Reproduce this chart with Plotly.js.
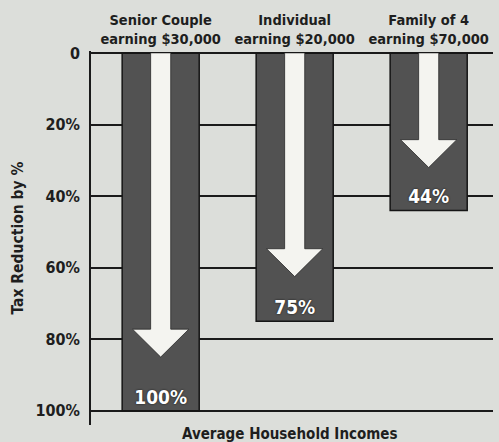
<!DOCTYPE html>
<html>
<head>
<meta charset="utf-8">
<script src="https://cdn.plot.ly/plotly-3.0.1.min.js"></script>
<style>html,body{margin:0;padding:0;background:#dcdeda;}#chart{width:499px;height:442px;}</style>
</head>
<body>
<div id="chart"></div>
<script>
// Data
const categories = ["Senior Couple<br>earning $30,000", "Individual<br>earning $20,000", "Family of 4<br>earning $70,000"];
const reductions = [100, 75, 44];
const valueLabels = ["100%", "75%", "44%"];
const arrowTips = [85, 62.5, 32];
const yTickVals = [0, 20, 40, 60, 80, 100];
const yTickText = ["0", "20%", "40%", "60%", "80%", "100%"];

const FONT = '"DejaVu Sans Condensed", "DejaVu Sans", sans-serif';
const xPos = categories.map((c, i) => i);
const shaftHalf = 0.075, headHalf = 0.21, headLen = 7.8;

const traces = [{
  type: 'bar',
  x: xPos,
  y: reductions,
  width: 0.575,
  marker: {color: '#525252', line: {color: '#151515', width: 1.5}},
  text: valueLabels,
  textposition: 'inside',
  insidetextanchor: 'end',
  textangle: 0,
  constraintext: 'none',
  textfont: {family: FONT, size: 19, color: '#ffffff', weight: 700, shadow: '0px 0px 2px #111'},
  hoverinfo: 'skip'
}];

xPos.forEach((x, i) => {
  const t = arrowTips[i], hb = t - headLen;
  traces.push({
    type: 'scatter',
    mode: 'lines',
    x: [x - shaftHalf, x - shaftHalf, x - headHalf, x, x + headHalf, x + shaftHalf, x + shaftHalf],
    y: [0, hb, hb, t, hb, hb, 0],
    fill: 'toself',
    fillcolor: '#f4f4f0',
    line: {color: '#2a2a2a', width: 0.8},
    hoverinfo: 'skip'
  });
});

const layout = {
  width: 499, height: 442,
  margin: {l: 91, r: 6, t: 51, b: 17},
  paper_bgcolor: '#dcdeda',
  plot_bgcolor: '#dcdeda',
  showlegend: false,
  font: {family: FONT, color: '#1e1e1e'},
  xaxis: {
    side: 'top',
    range: [-0.52, 2.48],
    tickvals: xPos,
    ticktext: categories,
    tickfont: {family: FONT, size: 14.5, weight: 700, color: '#1e1e1e'},
    showgrid: false, zeroline: false, showline: false, ticks: '',
    ticklabelstandoff: 3,
    fixedrange: true
  },
  yaxis: {
    range: [104, -0.6],
    tickvals: yTickVals,
    ticktext: yTickText,
    tickfont: {family: FONT, size: 16, weight: 700, color: '#1e1e1e'},
    showgrid: true, gridcolor: '#1a1a1a', gridwidth: 1.8,
    zeroline: false,
    showline: true, linecolor: '#1a1a1a', linewidth: 1.8,
    ticks: '', ticklabelstandoff: 6,
    title: {text: 'Tax Reduction by %', font: {family: FONT, size: 15.5, weight: 700, color: '#1e1e1e'}, standoff: 8}
  },
  annotations: [{
    text: 'Average Household Incomes',
    xref: 'paper', yref: 'paper', x: 0.495, y: 0, yshift: -9,
    xanchor: 'center', yanchor: 'middle', showarrow: false,
    font: {family: FONT, size: 15, weight: 700, color: '#1e1e1e'}
  }]
};

Plotly.newPlot('chart', traces, layout, {displayModeBar: false, staticPlot: true});
</script>
</body>
</html>
